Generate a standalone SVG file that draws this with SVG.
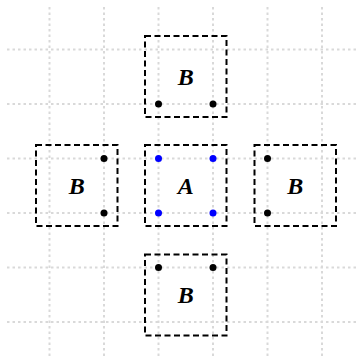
<svg xmlns="http://www.w3.org/2000/svg" width="364" height="364" viewBox="0 0 364 364">
<style>
.grid{stroke:#d9d9d9;stroke-width:2;stroke-dasharray:2.5 3;fill:none}
.box{fill:none;stroke:#000;stroke-width:2;stroke-dasharray:6 3.5}
.lbl{font-family:"Liberation Serif",serif;font-size:24px;font-weight:bold;font-style:italic;text-anchor:middle;dominant-baseline:central}
.b{fill:#000}
.a{fill:#0000ff}
</style>
<rect width="364" height="364" fill="#fff"/>
<g id="grid">
<path class="grid" d="M49.5,7V357M104,7V357M158.5,7V357M213,7V357M267.5,7V357M322,7V357M7,49.5H357M7,104H357M7,158.5H357M7,213H357M7,267.5H357M7,322H357"/>
</g>
<g id="nodeTop">
<rect class="box" x="145" y="36" width="81.5" height="81"/>
<text class="lbl" x="185.75" y="77">B</text>
<circle class="b" cx="158.5" cy="104" r="3.5"/>
<circle class="b" cx="213" cy="104" r="3.5"/>
</g>
<g id="nodeA">
<rect class="box" x="145" y="145" width="81.5" height="81"/>
<text class="lbl" x="185.75" y="186">A</text>
<circle class="a" cx="158.5" cy="158.5" r="3.5"/>
<circle class="a" cx="213" cy="158.5" r="3.5"/>
<circle class="a" cx="158.5" cy="213" r="3.5"/>
<circle class="a" cx="213" cy="213" r="3.5"/>
</g>
<g id="nodeLeft">
<rect class="box" x="36" y="145" width="81.5" height="81"/>
<text class="lbl" x="76.75" y="186">B</text>
<circle class="b" cx="104" cy="158.5" r="3.5"/>
<circle class="b" cx="104" cy="213" r="3.5"/>
</g>
<g id="nodeRight">
<rect class="box" x="254.5" y="145" width="81.5" height="81"/>
<text class="lbl" x="295.25" y="186">B</text>
<circle class="b" cx="267.5" cy="158.5" r="3.5"/>
<circle class="b" cx="267.5" cy="213" r="3.5"/>
</g>
<g id="nodeBottom">
<rect class="box" x="145" y="254.5" width="81.5" height="81"/>
<text class="lbl" x="185.75" y="295">B</text>
<circle class="b" cx="158.5" cy="267.5" r="3.5"/>
<circle class="b" cx="213" cy="267.5" r="3.5"/>
</g>
<g id="connectors"></g>
</svg>
